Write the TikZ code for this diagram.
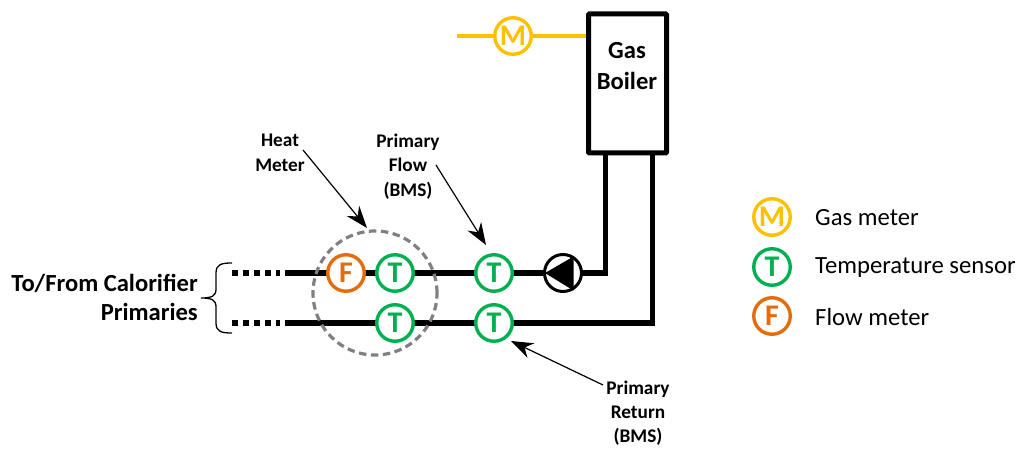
\documentclass[tikz,border=0pt]{standalone}
\usepackage{fontspec}
\setmainfont{Carlito}
\usetikzlibrary{arrows.meta,calc}
\definecolor{mgold}{HTML}{FFC000}
\definecolor{tgreen}{HTML}{00B050}
\definecolor{forange}{HTML}{E46C0A}
\newcommand{\fs}[2]{\fontsize{#1}{#2}\selectfont}
\tikzset{
  x=1pt,y=-1pt,
  pipe/.style={line width=5.6pt,line join=miter},
  sensor/.style={circle,draw=#1,text=#1,fill=white,line width=3.4pt,minimum size=36.5pt,inner sep=0pt,font=\fs{30}{30}\bfseries},
  note/.style={align=center,font=\fs{19.3}{24.7}\bfseries,text=black,inner sep=0pt},
  leader/.style={line width=1.2pt,-{Stealth[length=22pt,width=16pt,inset=7pt]}},
  legendtext/.style={anchor=west,inner sep=0pt,font=\fs{24.7}{25}},
}
\begin{document}
\begin{tikzpicture}
\useasboundingbox (0,0) rectangle (1019,449);
% anchors
\coordinate (gasstart) at (457,36);
\coordinate (flowend) at (285,273);
\coordinate (retend) at (285,323);
\coordinate (flowdot) at (232,273);
\coordinate (retdot) at (232,323);
\coordinate (flowcorner) at (605.5,273);
\coordinate (retcorner) at (652.5,323);
\coordinate (flowtop) at (605.5,154);
\coordinate (rettop) at (652.5,154);
% pipes
\draw[pipe] (flowend) -- (flowcorner) -- (flowtop);
\draw[pipe] (retend) -- (retcorner) -- (rettop);
\draw[line width=5.6pt,dash pattern=on 5.5pt off 5.5pt] (flowdot) -- (280,273);
\draw[line width=5.6pt,dash pattern=on 5.5pt off 5.5pt] (retdot) -- (280,323);
% boiler
\node[draw=black,fill=white,line width=5pt,rounded corners=1pt,minimum width=78pt,minimum height=139pt,inner sep=0pt] (boiler) at (627.5,83.5) {};
\node[align=center,font=\fs{24.6}{31}\bfseries,inner sep=0pt] (boilertext) at (627,66) {Gas\\Boiler};
% gas
\node[sensor=mgold] (mm) at (513,36) {M};
\draw[mgold,line width=4.5pt] (gasstart) -- (mm);
\draw[mgold,line width=4.5pt] (mm) -- (boiler.west |- mm);
% heat meter ring
\node[circle,draw=black!50,line width=3.2pt,dash pattern=on 7.5pt off 4.5pt,minimum size=124pt,inner sep=0pt] (ring) at (375,293) {};
% sensors
\node[sensor=forange] (f1) at (346,273) {F};
\node[sensor=tgreen] (t1) at (395,273) {T};
\node[sensor=tgreen] (t2) at (494,273) {T};
\node[sensor=tgreen] (t3) at (395,323) {T};
\node[sensor=tgreen] (t4) at (494,323) {T};
% pump
\node[circle,draw=black,fill=white,line width=3pt,minimum size=37pt,inner sep=0pt] (pump) at (563,273) {};
\fill (545,273) -- (573.5,256.5) -- (573.5,290.5) -- cycle;
% brace
\draw[line width=1.3pt] (232,263) .. controls (222,263) and (216,264) .. (216,273) -- (216,289)
  .. controls (216,296) and (212,298) .. (201,298)
  .. controls (212,298) and (216,300) .. (216,307) -- (216,323)
  .. controls (216,332) and (222,333) .. (232,333);
% texts
\node[anchor=east,align=right,font=\fs{24.6}{29}\bfseries,inner sep=0pt] (cal) at (198,297.5) {To/From Calorifier\\Primaries};
\node[note] (heat) at (280,153) {Heat\\Meter};
\node[note] (pflow) at (408,166.5) {Primary\\Flow\\(BMS)};
\node[note,font=\fs{19.3}{24}\bfseries] (pret) at (638,413.5) {Primary\\Return\\(BMS)};
% leaders
\coordinate (heatfrom) at (303,150);
\coordinate (heatto) at (367,228);
\coordinate (flowfrom) at (436,165);
\coordinate (flowto) at (486,245);
\coordinate (retfrom) at (603,385);
\coordinate (retto) at (511,341);
\draw[leader] (heatfrom) -- (heatto);
\draw[leader] (flowfrom) -- (flowto);
\draw[leader] (retfrom) -- (retto);
% legend
\node[sensor=mgold] (lm) at (772,217) {M};
\node[sensor=tgreen] (lt) at (772,267) {T};
\node[sensor=forange] (lf) at (772,316) {F};
\node[legendtext] (lmt) at (815,218) {Gas meter};
\node[legendtext] (ltt) at (815,268) {Temperature sensor};
\node[legendtext] (lft) at (815,317) {Flow meter};
\end{tikzpicture}
\end{document}
